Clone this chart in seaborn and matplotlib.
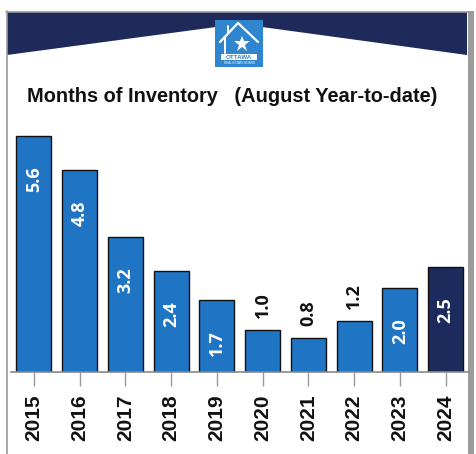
import matplotlib
matplotlib.use("Agg")
import matplotlib.pyplot as plt
import seaborn as sns
import pandas as pd
from matplotlib.patches import Polygon, Rectangle
from matplotlib.lines import Line2D

# ---- data ----
years = ["2015", "2016", "2017", "2018", "2019", "2020", "2021", "2022", "2023", "2024"]
months_inventory = [5.6, 4.8, 3.2, 2.4, 1.7, 1.0, 0.8, 1.2, 2.0, 2.5]
bar_colors = ["#1f74c4"] * 9 + ["#1c2a5c"]
title_text = "Months of Inventory   (August Year-to-date)"

df = pd.DataFrame({"year": years, "value": months_inventory})

sns.set_theme(style="white")
plt.rcParams["font.family"] = ["Liberation Sans", "DejaVu Sans"]

W, H = 476, 454
fig = plt.figure(figsize=(W / 100, H / 100), dpi=100)
fig.patch.set_facecolor("white")

# background decoration axes (pixel coordinates, y down)
bg = fig.add_axes([0, 0, 1, 1], zorder=0)
bg.set_xlim(0, W)
bg.set_ylim(H, 0)
bg.axis("off")

navy = "#1e2a5a"
bg.add_patch(Polygon([(7, 12), (467, 12), (467, 55), (262, 27), (216, 27), (7, 55)],
                     closed=True, facecolor=navy, edgecolor="none"))
# frame
bg.add_line(Line2D([6.5, 6.5], [11, H], color="#9a9a9a", lw=1.2))
bg.add_line(Line2D([6, 470], [11.5, 11.5], color="#9a9a9a", lw=1.2))
bg.add_patch(Rectangle((468, 11), 6, H - 11, facecolor="#9c9c9c", edgecolor="none"))

# logo
bg.add_patch(Rectangle((215, 20), 48, 47, facecolor="#2f86cf", edgecolor="none"))
bg.add_line(Line2D([220, 238, 258], [42, 23, 42], color="white", lw=1.6))
bg.add_line(Line2D([225, 225], [38, 53], color="white", lw=1.4))
bg.add_line(Line2D([228, 228], [26, 33], color="white", lw=1.4))
bg.plot([242], [44], marker="*", markersize=12, color="white", markeredgewidth=0)
bg.add_patch(Rectangle((221, 54), 36, 6, facecolor="white", edgecolor="none"))
bg.text(239, 57.2, "OTTAWA", fontsize=4.5, color="#2f86cf", fontweight="bold",
        ha="center", va="center")
bg.text(239, 63, "REAL ESTATE BOARD", fontsize=2.2, color="white", ha="center", va="center")

# title
fig.text(232.5 / W, 1 - 97 / H, title_text, fontsize=14.4, fontweight="bold",
         color="#111111", ha="center", va="center")

# main axes
left_px, right_px = 11, 468.5
base_px, top_px = 372, 372 - 6 * 42.1
ax = fig.add_axes([left_px / W, 1 - base_px / H, (right_px - left_px) / W, (base_px - top_px) / H],
                  zorder=1)
ax.set_facecolor("none")

sns.barplot(data=df, x="year", y="value", hue="year", palette=bar_colors, legend=False,
            width=0.766, edgecolor="#111111", linewidth=1.0, saturation=1, ax=ax)

ax.set_ylim(0, 6)
ax.set_xlim(-0.5, 9.5)
ax.set_xlabel("")
ax.set_ylabel("")
ax.set_yticks([])
for s in ["left", "right", "top"]:
    ax.spines[s].set_visible(False)
ax.spines["bottom"].set_color("#8a8a8a")
ax.spines["bottom"].set_linewidth(1.2)
ax.tick_params(axis="x", length=10, width=1, color="#9a9a9a", pad=6, direction="out",
               bottom=True)
for lab in ax.get_xticklabels():
    lab.set_rotation(90)
    lab.set_fontsize(15)
    lab.set_fontweight("bold")
    lab.set_color("#111111")
    lab.set_va("top")

for i, v in enumerate(months_inventory):
    txt = f"{v:.1f}"
    if v < 1.5:
        ax.annotate(txt, (i, v), xytext=(0, 18), textcoords="offset points",
                    rotation=90, ha="center", va="center", fontsize=13,
                    fontweight="bold", color="#111111", family=["Open Sans", "DejaVu Sans"])
    else:
        ax.annotate(txt, (i, v), xytext=(0, -31), textcoords="offset points",
                    rotation=90, ha="center", va="center", fontsize=13,
                    fontweight="bold", color="white", family=["Open Sans", "DejaVu Sans"])

fig.savefig("out.png", dpi=100, facecolor="white")
